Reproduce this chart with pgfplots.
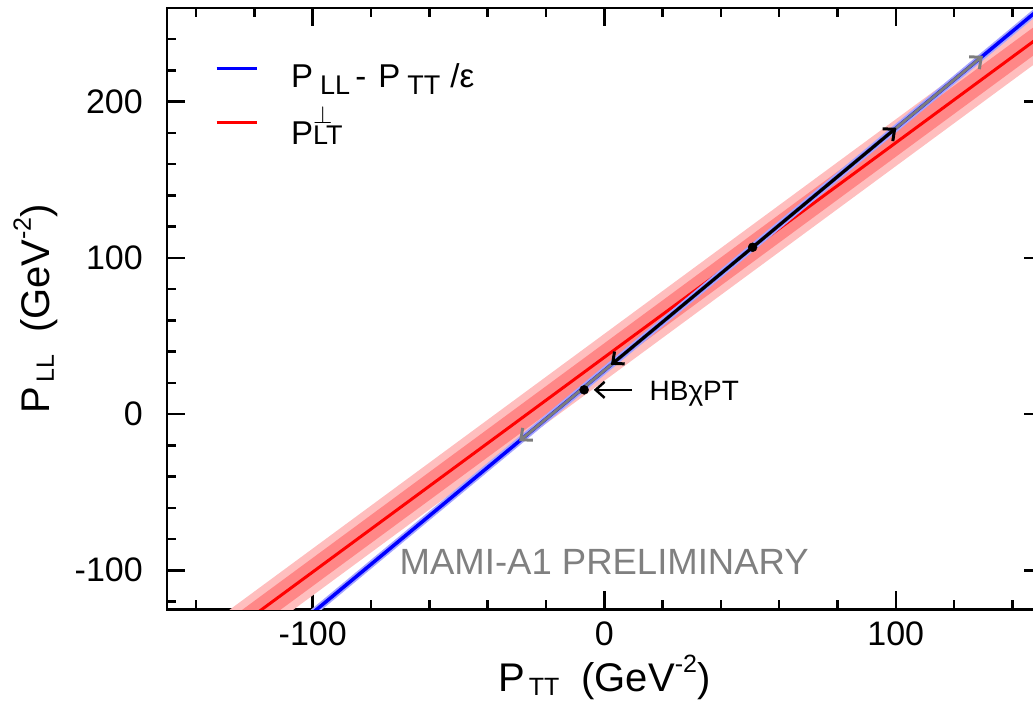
\documentclass[border=0pt]{standalone}
\usepackage{fontspec}
\setmainfont{Liberation Sans}
\usepackage{pgfplots}
\pgfplotsset{compat=1.18}
\usetikzlibrary{arrows.meta}

\definecolor{bandlight}{RGB}{255,190,190}
\definecolor{banddark}{RGB}{255,135,135}
\definecolor{halo}{RGB}{165,165,255}
\definecolor{prelim}{RGB}{128,128,128}
\definecolor{errgray}{RGB}{125,125,125}

\newcommand{\sz}[1]{\fontsize{#1}{#1}\selectfont}
\newcommand{\lowsub}[1]{\raisebox{-7pt}{\sz{27}#1}}

\begin{document}
\begin{tikzpicture}
\begin{axis}[
  at={(0,0)}, anchor=south west,
  scale only axis, width=874.5pt, height=601.3pt,
  xmin=-150, xmax=150, ymin=-125, ymax=260,
  xtick={-100,0,100}, ytick={-100,0,100,200},
  minor xtick={-140,-120,-80,-60,-40,-20,20,40,60,80,120,140},
  minor ytick={-120,-80,-60,-40,-20,20,40,60,80,120,140,160,180,220,240},
  tick align=inside,
  major tick length=18pt, minor tick length=9pt,
  axis line style={line width=2.5pt},
  tick style={black, line width=2.5pt},
  tick label style={font=\sz{34}, inner sep=0pt},
  /pgf/number format/assume math mode=true,
  xticklabel style={yshift=-12.7pt},
  yticklabel style={xshift=-24pt},
  xlabel={P\kern4pt\raisebox{-4pt}{\sz{25}TT}\ \ (GeV\raisebox{19pt}{\sz{25}-2})},
  ylabel={P\kern4pt\raisebox{-4pt}{\sz{25}LL}\ \ (GeV\raisebox{19pt}{\sz{25}-2})},
  xlabel style={at={(axis description cs:0.5,-0.137)}, anchor=base, font=\sz{40}, inner sep=0pt},
  ylabel style={at={(axis description cs:-0.1338,0.5)}, anchor=base, font=\sz{40}, inner sep=0pt},
  legend style={draw=none, fill=none, at={(axis description cs:0.0549,0.908)}, anchor=north west,
    font=\sz{33}, nodes={inner sep=0pt}, column sep=33pt, row sep=17pt, inner sep=0pt},
  legend cell align=left,
  legend image code/.code={\draw[line width=3pt, #1] (0pt,8pt) -- (40pt,8pt);},
]

% legend samples
\addlegendimage{blue}
\addlegendentry{P\kern7pt\lowsub{LL}\kern5pt - \kern3pt P\kern7pt\lowsub{TT}\kern10pt/ε}
\addlegendimage{red, yshift=-5pt}
\addlegendentry{P\rlap{\raisebox{21pt}{\sz{24}$\perp$}}{\sz{27}LT}}

% P_LT^perp with its two uncertainty bands
\addplot[draw=none, fill=bandlight, forget plot]
  coordinates {(-150,-154.8) (150,257.4) (150,227.4) (-150,-184.8)} -- cycle;
\addplot[draw=none, fill=banddark, forget plot]
  coordinates {(-150,-160.8) (150,251.4) (150,233.4) (-150,-178.8)} -- cycle;
\addplot[red, line width=3pt, forget plot]
  coordinates {(-150,-169.8) (150,242.4)};

% P_LL - P_TT/epsilon
\addplot[halo, line width=7pt, forget plot]
  coordinates {(-150,-204.75) (150,260.55)};
\addplot[blue, line width=3.5pt, forget plot]
  coordinates {(-150,-204.75) (150,260.55)};

% total (gray) and statistical (black) errors along the line
\addplot[errgray, line width=3pt, -{Straight Barb[length=9pt,width=16pt]}, forget plot]
  coordinates {(50.9,106.8) (129.9,229.4)};
\addplot[errgray, line width=3pt, -{Straight Barb[length=9pt,width=16pt]}, forget plot]
  coordinates {(50.9,106.8) (-29.2,-17.4)};
\addplot[black, line width=3pt, -{Straight Barb[length=9pt,width=16pt]}, forget plot]
  coordinates {(50.9,106.8) (100.2,183.3)};
\addplot[black, line width=3pt, -{Straight Barb[length=9pt,width=16pt]}, forget plot]
  coordinates {(50.9,106.8) (2.3,31.5)};

% measured point and HBChPT prediction
\addplot[only marks, mark=*, mark size=4.5pt, black, forget plot]
  coordinates {(50.9,106.8) (-6.9,15.5)};
\addplot[black, line width=2.5pt, -{Straight Barb[length=9pt,width=16pt]}, forget plot]
  coordinates {(9.6,15.5) (-3.6,15.5)};
\node[anchor=base west, font=\sz{28}, inner sep=0pt] at (axis cs:15.5,8.8) {HBχPT};

\node[anchor=base, font=\sz{36.5}, text=prelim, inner sep=0pt] at (axis cs:0,-103) {MAMI-A1 PRELIMINARY};
\end{axis}
\pgfresetboundingbox
\useasboundingbox (-167pt,-92pt) rectangle (866pt,609.3pt);
\end{tikzpicture}
\end{document}
